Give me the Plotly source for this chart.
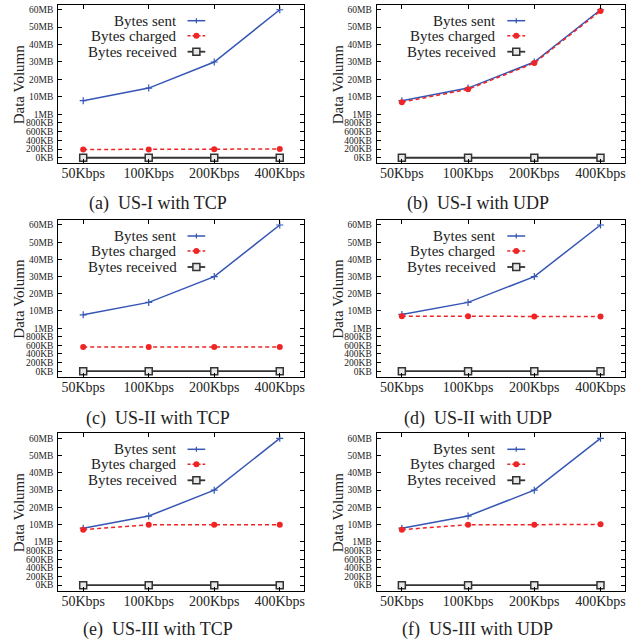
import plotly.graph_objects as go
from plotly.subplots import make_subplots

# ---------------- data ----------------
categories = ["50Kbps", "100Kbps", "200Kbps", "400Kbps"]
panel_titles = ["(a)  US-I with TCP", "(b)  US-I with UDP",
                "(c)  US-II with TCP", "(d)  US-II with UDP",
                "(e)  US-III with TCP", "(f)  US-III with UDP"]

# values in MB
sent_a = [8, 15, 30, 60]
sent_b = [8, 15, 30, 60]
sent_c = [8, 15, 30, 60]
sent_d = [8.2, 15, 30, 60]
sent_e = [8.2, 15, 30, 60]
sent_f = [8.2, 15, 30, 60]

charged_a = [0.19, 0.19, 0.195, 0.2]
charged_b = [7.2, 14.3, 29.4, 59.3]
charged_c = [0.56, 0.56, 0.56, 0.56]
charged_d = [7.3, 7.3, 7.1, 7.1]
charged_e = [7.4, 10, 10, 10]
charged_f = [7.4, 10, 10, 10.2]

received_a = [0, 0, 0, 0]
received_b = [0, 0, 0, 0]
received_c = [0, 0, 0, 0]
received_d = [0, 0, 0, 0]
received_e = [0, 0, 0, 0]
received_f = [0, 0, 0, 0]

tick_values_mb = [0, 0.2, 0.4, 0.6, 0.8, 1, 10, 20, 30, 40, 50, 60]
tick_labels = ["0KB", "200KB", "400KB", "600KB", "800KB", "1MB",
               "10MB", "20MB", "30MB", "40MB", "50MB", "60MB"]

series_names = ["Bytes sent", "Bytes charged", "Bytes received"]


def to_axis(mb):
    """Piecewise scale used by the original figure."""
    if mb <= 1:
        return mb * 1000 / 400.0
    if mb <= 10:
        return 2.5 + (mb - 1) / 9.0
    return 3.5 + (mb - 10) / 10.0


sent_all = [sent_a, sent_b, sent_c, sent_d, sent_e, sent_f]
charged_all = [charged_a, charged_b, charged_c, charged_d, charged_e, charged_f]
received_all = [received_a, received_b, received_c, received_d, received_e, received_f]

# ---------------- style ----------------
W, H = 633, 643
FONT = "Liberation Serif"
BLUE = "#3556b5"
RED = "#f02424"
DARK = "#333333"

# plot-area pixel boxes (left, right, top, bottom)
boxes = [
    (58.3, 304, 4.7, 163.3),
    (376.7, 625, 4.7, 163.3),
    (58.3, 304, 220, 376.7),
    (376.7, 625, 220, 376.7),
    (58.3, 304, 433.3, 590.7),
    (376.7, 625, 433.3, 590.7),
]
ytitle_x = [19.3, 338.3]
subtitle_x = [158, 478]
subtitle_y = [204, 418, 629]

fig = make_subplots(rows=3, cols=2)

annotations = []
shapes = []

for i in range(6):
    r, c = i // 2 + 1, i % 2 + 1
    fig.add_trace(go.Scatter(
        x=categories, y=[to_axis(v) for v in sent_all[i]], mode="lines+markers",
        name=series_names[0], showlegend=False,
        line=dict(color=BLUE, width=1.5),
        marker=dict(symbol="cross-thin", size=5, line=dict(color=BLUE, width=1.2))),
        row=r, col=c)
    fig.add_trace(go.Scatter(
        x=categories, y=[to_axis(v) for v in charged_all[i]], mode="lines+markers",
        name=series_names[1], showlegend=False,
        line=dict(color=RED, width=1.5, dash="4px,3px"),
        marker=dict(symbol="circle", size=6, color=RED)),
        row=r, col=c)
    fig.add_trace(go.Scatter(
        x=categories, y=[to_axis(v) for v in received_all[i]], mode="lines+markers",
        name=series_names[2], showlegend=False,
        line=dict(color=DARK, width=1.8),
        marker=dict(symbol="square", size=7, color="#e8e8e8",
                    line=dict(color=DARK, width=1.5))),
        row=r, col=c)

    L, R, T, B = boxes[i]
    sfx = "" if i == 0 else str(i + 1)
    fig.layout["xaxis" + sfx].update(
        domain=[L / W, R / W], type="category", range=[-0.38, 3.37],
        showline=True, linecolor="black", linewidth=1, mirror="ticks",
        ticks="inside", ticklen=4, tickcolor="black", showgrid=False,
        zeroline=False, ticklabelstandoff=-3,
        tickfont=dict(family=FONT, size=14, color="#222"))
    fig.layout["yaxis" + sfx].update(
        domain=[1 - B / H, 1 - T / H], range=[-0.32, 8.79],
        tickvals=[to_axis(v) for v in tick_values_mb], ticktext=tick_labels,
        showline=True, linecolor="black", linewidth=1, mirror="ticks",
        ticks="inside", ticklen=4, tickcolor="black", showgrid=False,
        zeroline=False, ticklabelstandoff=2,
        tickfont=dict(family=FONT, size=9.5, color="#222"))

    # axis title
    annotations.append(dict(
        text="Data Volumn", textangle=-90, xref="paper", yref="paper",
        x=ytitle_x[c - 1] / W, y=1 - (T + B) / 2 / H, showarrow=False,
        xanchor="center", yanchor="middle",
        font=dict(family=FONT, size=15, color="#222")))
    # panel caption
    annotations.append(dict(
        text=panel_titles[i], xref="paper", yref="paper",
        x=subtitle_x[c - 1] / W, y=1 - subtitle_y[r - 1] / H, showarrow=False,
        xanchor="center", yanchor="middle",
        font=dict(family=FONT, size=18, color="#222")))

    # legend (text right-aligned, sample on the right)
    xr = "x" + sfx + " domain"
    yr = "y" + sfx + " domain"
    hpx = B - T
    row_y = [1 - 16 / hpx, 1 - 31 / hpx, 1 - 47 / hpx]
    colors = [BLUE, RED, DARK]
    for k in range(3):
        annotations.append(dict(
            text=series_names[k], xref=xr, yref=yr, x=0.49, y=row_y[k],
            xanchor="right", yanchor="middle", showarrow=False,
            font=dict(family=FONT, size=15, color="#222")))
        shapes.append(dict(
            type="line", xref=xr, yref=yr, x0=0.526, x1=0.598,
            y0=row_y[k], y1=row_y[k],
            line=dict(color=colors[k], width=1.8 if k == 2 else 1.5,
                      dash="3px,2px" if k == 1 else "solid")))
    mx = 0.562
    # plus marker
    shapes.append(dict(type="line", xref=xr, yref=yr, xsizemode="pixel",
                       ysizemode="pixel", xanchor=mx, yanchor=row_y[0],
                       x0=0, x1=0, y0=-2.5, y1=2.5,
                       line=dict(color=BLUE, width=1.2)))
    # dot marker
    shapes.append(dict(type="circle", xref=xr, yref=yr, xsizemode="pixel",
                       ysizemode="pixel", xanchor=mx, yanchor=row_y[1],
                       x0=-3, x1=3, y0=-3, y1=3,
                       fillcolor=RED, line=dict(color=RED, width=0)))
    # square marker
    shapes.append(dict(type="rect", xref=xr, yref=yr, xsizemode="pixel",
                       ysizemode="pixel", xanchor=mx, yanchor=row_y[2],
                       x0=-3.5, x1=3.5, y0=-3.5, y1=3.5,
                       fillcolor="#e8e8e8", line=dict(color=DARK, width=1.5)))

fig.update_layout(
    width=W, height=H, margin=dict(l=0, r=0, t=0, b=0),
    paper_bgcolor="white", plot_bgcolor="white",
    showlegend=False, annotations=annotations, shapes=shapes,
    font=dict(family=FONT, color="#222"))

fig.write_html("out.html",
               config={"displayModeBar": False},
               post_script="document.body.style.margin='0px';"
                           "document.body.style.overflow='hidden';")
